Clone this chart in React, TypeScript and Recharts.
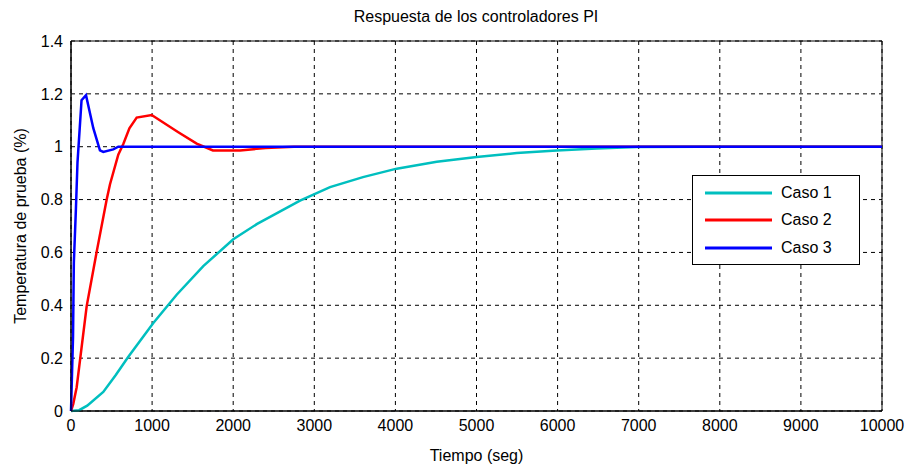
import React from 'react';
import { LineChart, Line, XAxis, YAxis, CartesianGrid, ReferenceArea } from 'recharts';

const caso1T = [0, 100, 200, 398, 550, 707, 1015, 1303, 1631, 2001, 2290, 2824, 3194, 3600, 4016, 4510, 5002, 5496, 5989, 6482, 6975, 7750, 10000];
const caso1Y = [0, 0.003, 0.02, 0.072, 0.135, 0.205, 0.333, 0.44, 0.548, 0.65, 0.707, 0.796, 0.847, 0.885, 0.917, 0.943, 0.961, 0.976, 0.986, 0.993, 0.999, 1.0, 1.0];

const caso2T = [0, 28, 70, 193, 317, 440, 481, 583, 645, 720, 810, 995, 1323, 1550, 1750, 2085, 2400, 2750, 10000];
const caso2Y = [0, 0.027, 0.09, 0.396, 0.603, 0.8, 0.858, 0.97, 1.01, 1.07, 1.11, 1.12, 1.055, 1.012, 0.986, 0.986, 0.995, 1.0, 1.0];

const caso3T = [0, 25, 35, 60, 80, 130, 185, 275, 357, 398, 521, 583, 10000];
const caso3Y = [0, 0.28, 0.56, 0.76, 0.94, 1.176, 1.195, 1.07, 0.986, 0.98, 0.99, 1.0, 1.0];

const xTicks = [0, 1000, 2000, 3000, 4000, 5000, 6000, 7000, 8000, 9000, 10000];
const yTicks = [0, 0.2, 0.4, 0.6, 0.8, 1, 1.2, 1.4];

const series = [
  { name: 'Caso 1', color: '#00BFBF', data: caso1T.map((t, i) => ({ t, v: caso1Y[i] })) },
  { name: 'Caso 2', color: '#FF0000', data: caso2T.map((t, i) => ({ t, v: caso2Y[i] })) },
  { name: 'Caso 3', color: '#0000FF', data: caso3T.map((t, i) => ({ t, v: caso3Y[i] })) },
];

const font = '"Liberation Sans", Arial, sans-serif';
const fs = 16;

// legend box drawn over the plot, like the matlab one
const LegendBox = () => (
  <div style={{ position: 'absolute', left: 692, top: 175, border: '1px solid #000', background: '#fff', width: 168, height: 90, boxSizing: 'border-box', padding: '3px 0 0 12px' }}>
    {series.map((s) => (
      <div key={s.name} style={{ display: 'flex', alignItems: 'center', height: 27.5 }}>
        <svg width={67} height={6}>
          <line x1={0} y1={3} x2={67} y2={3} stroke={s.color} strokeWidth={3} />
        </svg>
        <span style={{ marginLeft: 9, fontSize: fs, color: '#000', fontFamily: font }}>{s.name}</span>
      </div>
    ))}
  </div>
);

const formatY = (v: number) => (v === 0 || v === 1 ? String(v) : v.toFixed(1));

export default function App() {
  return (
    <div style={{ position: 'fixed', left: 0, top: 0, width: 907, height: 466, background: '#fff', fontFamily: font }}>
      <div style={{ position: 'absolute', left: 0, width: 907, top: 8, textAlign: 'center', fontSize: fs, color: '#000', paddingLeft: 45, boxSizing: 'border-box' }}>
        Respuesta de los controladores PI
      </div>
      <LineChart width={907} height={466} margin={{ top: 41, right: 25, left: 0, bottom: 25 }}>
        <CartesianGrid stroke="#000" strokeDasharray="4 4" strokeWidth={1} />
        <XAxis
          type="number"
          dataKey="t"
          domain={[0, 10000]}
          ticks={xTicks}
          interval={0}
          allowDuplicatedCategory={false}
          height={30}
          tickSize={6}
          tickLine={false}
          tickMargin={3}
          axisLine={{ stroke: '#000' }}
          tick={{ fill: '#000', fontSize: fs, fontFamily: font }}
          label={{ value: 'Tiempo (seg)', position: 'insideBottom', offset: -20, fill: '#000', fontSize: fs, fontFamily: font }}
        />
        <YAxis
          type="number"
          domain={[0, 1.4]}
          ticks={yTicks}
          interval={0}
          width={71}
          tickLine={false}
          axisLine={{ stroke: '#000' }}
          tickFormatter={formatY}
          tick={{ fill: '#000', fontSize: fs, fontFamily: font }}
          label={{ value: 'Temperatura de prueba (%)', angle: -90, position: 'insideLeft', offset: 20, fill: '#000', fontSize: fs, fontFamily: font, style: { textAnchor: 'middle' } }}
        />
        <ReferenceArea x1={0} x2={10000} y1={0} y2={1.4} fill="none" stroke="#000" strokeWidth={1} ifOverflow="visible" />
        {series.map((s) => (
          <Line
            key={s.name}
            data={s.data}
            dataKey="v"
            name={s.name}
            type="linear"
            stroke={s.color}
            strokeWidth={2.5}
            dot={false}
            activeDot={false}
            isAnimationActive={false}
          />
        ))}
      </LineChart>
      <LegendBox />
    </div>
  );
}
